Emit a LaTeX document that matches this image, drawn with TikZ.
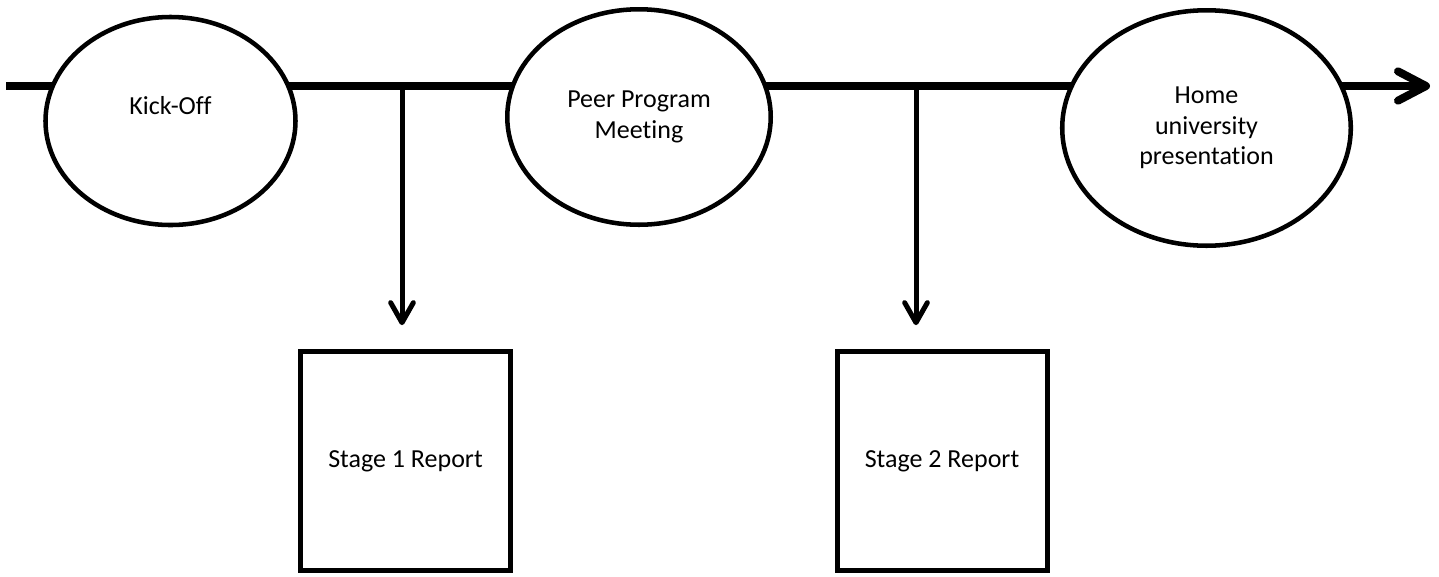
\documentclass[tikz,border=0pt]{standalone}
\usepackage{fontspec}
\setmainfont{Carlito}[RawFeature=-liga]
\usetikzlibrary{shapes.geometric,arrows.meta}

\begin{document}
\begin{tikzpicture}[x=0.75pt,y=0.75pt,yscale=-1,xscale=1,
	event/.style={ellipse,draw,line width=3.4pt,fill=white,inner sep=0pt,align=center,font=\fontsize{19.5}{23}\selectfont},
	report/.style={rectangle,draw,line width=3.75pt,fill=white,inner sep=0pt,minimum width=157.5pt,minimum height=164pt,font=\fontsize{19.5}{23}\selectfont},
	timeline/.style={line width=6pt,-{Straight Barb[round,length=21pt,width=22pt]}},
	drop/.style={line width=3.75pt,-{Straight Barb[round,length=15pt,width=17pt]},shorten >=18pt}]
	\useasboundingbox (0,0) rectangle (1439,576);
	\coordinate (start) at (6,86);
	\coordinate (end) at (1430,86);
	\coordinate (tap1) at (402,86);
	\coordinate (tap2) at (916,86);
	\draw [timeline] (start) -- (end);
	\node [event,minimum width=187.5pt,minimum height=156pt] (kickoff) at (170.5,121) {Kick-Off\\\mbox{}};
	\node [event,minimum width=197.6pt,minimum height=161.6pt] (peer) at (639,117) {Peer Program\\Meeting};
	\node [event,minimum width=216.4pt,minimum height=176.6pt] (home) at (1206.5,128) {Home\\university\\presentation};
	\node [report] (stage1) at (405.5,461) {Stage 1 Report};
	\node [report] (stage2) at (942,461) {Stage 2 Report};
	\draw [drop] (tap1) -- (tap1 |- stage1.north);
	\draw [drop] (tap2) -- (tap2 |- stage2.north);
\end{tikzpicture}
\end{document}
